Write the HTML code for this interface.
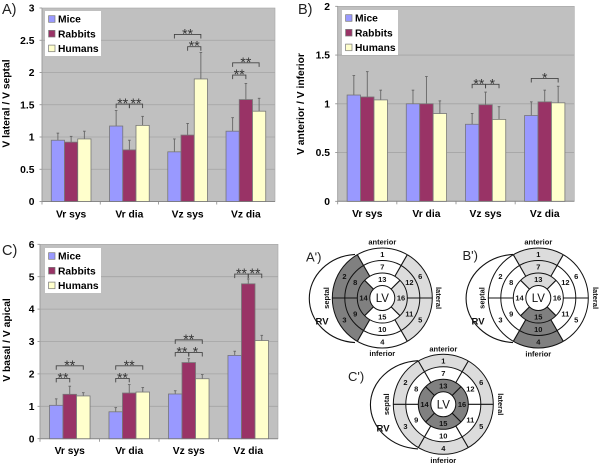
<!DOCTYPE html>
<html>
<head>
<meta charset="utf-8">
<style>
html,body{margin:0;padding:0;background:#fff;width:600px;height:465px;overflow:hidden}
svg{display:block;font-family:"Liberation Sans",sans-serif;filter:blur(0.3px)}
.t{font-weight:bold;font-size:10.3px;fill:#000}
</style>
</head>
<body>
<svg id="fig" width="600" height="465" viewBox="0 0 600 465" xmlns="http://www.w3.org/2000/svg">
<text x="2" y="14" font-size="14.5" fill="#222">A)</text>
<text x="298" y="14" font-size="14.5" fill="#222">B)</text>
<text x="2" y="255" font-size="14.5" fill="#222">C)</text>
<text class="t" transform="translate(9.5,103.5) rotate(-90)" text-anchor="middle">V lateral / V septal</text>
<text class="t" transform="translate(304,104) rotate(-90)" text-anchor="middle">V anterior / V inferior</text>
<text class="t" transform="translate(10,340) rotate(-90)" text-anchor="middle">V basal / V apical</text>
<g id="charts"></g>
<g id="diagrams"></g>
</svg>
<script>
const categories = ["Vr sys", "Vr dia", "Vz sys", "Vz dia"];
const seriesNames = ["Mice", "Rabbits", "Humans"];
const seriesColors = ["#9999ff", "#993366", "#ffffcc"];

const ticksA = ["0", "0.5", "1", "1.5", "2", "2.5", "3"];
const miceA = [0.95, 1.17, 0.77, 1.09];
const rabbitsA = [0.92, 0.80, 1.03, 1.58];
const humansA = [0.97, 1.18, 1.90, 1.40];
const miceErrA = [0.11, 0.24, 0.20, 0.21];
const rabbitsErrA = [0.09, 0.15, 0.18, 0.25];
const humansErrA = [0.12, 0.14, 0.41, 0.20];
const sigA = [[1, 0, 1, 1.51, "**"], [1, 1, 2, 1.51, "**"], [2, 0, 2, 2.59, "**"], [2, 1, 2, 2.40, "**"], [3, 0, 1, 1.96, "**"], [3, 0, 2, 2.15, "**"]];

const ticksB = ["0", "0.5", "1", "1.5", "2"];
const miceB = [1.09, 1.00, 0.79, 0.88];
const rabbitsB = [1.07, 1.00, 0.99, 1.02];
const humansB = [1.04, 0.90, 0.84, 1.01];
const miceErrB = [0.20, 0.14, 0.11, 0.14];
const rabbitsErrB = [0.26, 0.28, 0.13, 0.12];
const humansErrB = [0.10, 0.13, 0.13, 0.17];
const sigB = [[2, 0, 1, 1.20, "**"], [2, 1, 2, 1.20, "*"], [3, 0, 2, 1.26, "*"]];

const ticksC = ["0", "1", "2", "3", "4", "5", "6"];
const miceC = [1.03, 0.83, 1.38, 2.57];
const rabbitsC = [1.37, 1.41, 2.35, 4.78];
const humansC = [1.32, 1.44, 1.85, 3.03];
const miceErrC = [0.20, 0.13, 0.10, 0.13];
const rabbitsErrC = [0.25, 0.26, 0.12, 0.15];
const humansErrC = [0.10, 0.14, 0.13, 0.16];
const sigC = [[0, 0, 1, 1.86, "**"], [0, 0, 2, 2.25, "**"], [1, 0, 1, 1.86, "**"], [1, 0, 2, 2.25, "**"], [2, 0, 1, 2.66, "**"], [2, 1, 2, 2.66, "*"], [2, 0, 2, 3.05, "**"], [3, 0, 1, 5.08, "**"], [3, 1, 2, 5.08, "**"]];

const NS = "http://www.w3.org/2000/svg";
function mk(parent, tag, attrs, txt) {
  const el = document.createElementNS(NS, tag);
  for (const k in attrs) el.setAttribute(k, attrs[k]);
  if (txt !== undefined) el.textContent = txt;
  parent.appendChild(el);
  return el;
}
function named(el, name) {
  
  
  return el;
}

function drawChart(o) {
  const root = named(mk(document.getElementById("charts"), "g", {}), "chart-" + o.id);
  const yMax = Number(o.ticks[o.ticks.length - 1]);
  const sy = v => o.y0 + (o.y1 - o.y0) * v / yMax;
  const gw = (o.x1 - o.x0) / categories.length;
  const bw = gw / 4.4;
  const barX = (g, s) => o.x0 + gw * g + gw / 2 - 1.5 * bw + s * bw;

  named(mk(root, "rect", {x: o.x0, y: o.y1, width: o.x1 - o.x0, height: o.y0 - o.y1, fill: "#c0c0c0", stroke: "#a6a6a6", "stroke-width": 0.6}), "plot-area");

  o.ticks.forEach(t => {
    const y = sy(Number(t));
    if (Number(t) > 0 && Number(t) < yMax) {
      named(mk(root, "line", {x1: o.x0, x2: o.x1, y1: y, y2: y, stroke: "#a4a4a4", "stroke-width": 0.8}), "gridline");
    }
    named(mk(root, "line", {x1: o.x0 - 2.5, x2: o.x0, y1: y, y2: y, stroke: "#888", "stroke-width": 0.8}), "y-tick-mark");
    named(mk(root, "text", {x: o.x0 - o.tickGap, y: y + 3.6, "text-anchor": "end", "class": "t"}, t), "y-tick-label");
  });
  named(mk(root, "line", {x1: o.x0, x2: o.x1, y1: o.y0, y2: o.y0, stroke: "#888", "stroke-width": 1}), "x-axis-line");
  named(mk(root, "line", {x1: o.x0, x2: o.x0, y1: o.y1, y2: o.y0, stroke: "#999", "stroke-width": 0.8}), "y-axis-line");

  categories.forEach((c, g) => {
    const xt = o.x0 + gw * g;
    named(mk(root, "line", {x1: xt, x2: xt, y1: o.y0, y2: o.y0 + 3, stroke: "#888", "stroke-width": 0.8}), "x-tick-mark");
    named(mk(root, "text", {x: xt + gw / 2, y: o.y0 + o.catGap, "text-anchor": "middle", "class": "t"}, c), "x-tick-label");
    o.series.forEach((vals, s) => {
      const x = barX(g, s), v = vals[g], top = sy(v), etop = sy(v + o.errs[s][g]), mid = x + bw / 2;
      named(mk(root, "line", {x1: mid, x2: mid, y1: top, y2: etop, stroke: "#666", "stroke-width": 0.9}), "error-bar");
      named(mk(root, "line", {x1: mid - 1.3, x2: mid + 1.3, y1: etop, y2: etop, stroke: "#666", "stroke-width": 0.9}), "error-cap");
      named(mk(root, "rect", {x: x, y: top, width: bw, height: o.y0 - top, fill: seriesColors[s], stroke: "#777", "stroke-width": 0.8}), "bar-" + seriesNames[s].toLowerCase());
    });
  });

  o.sig.forEach(b => {
    const xa = barX(b[0], b[1]) + bw / 2, xb = barX(b[0], b[2]) + bw / 2, y = sy(b[3]);
    named(mk(root, "path", {d: "M" + xa + " " + (y + 4) + "V" + y + "H" + xb + "V" + (y + 4), fill: "none", stroke: "#444", "stroke-width": 0.9}), "significance-bracket");
    named(mk(root, "text", {x: (xa + xb) / 2, y: y + 4, "text-anchor": "middle", "font-size": 14, fill: "#333"}, b[4]), "significance-stars");
  });

  const lg = named(mk(root, "g", {}), "legend");
  named(mk(lg, "rect", {x: o.lx, y: o.ly, width: 56, height: 45, fill: "#fff"}), "legend-box");
  seriesNames.forEach((n, i) => {
    const yy = o.ly + 4.7 + i * 14.7;
    named(mk(lg, "rect", {x: o.lx + 3.6, y: yy, width: 6.4, height: 6.6, fill: seriesColors[i], stroke: "#777", "stroke-width": 0.7}), "legend-swatch");
    named(mk(lg, "text", {x: o.lx + 13, y: yy + 7, "class": "t"}, n), "legend-entry");
  });
}

drawChart({id: "a", x0: 42, x1: 275, y0: 201.5, y1: 8, tickGap: 7.5, catGap: 16, ticks: ticksA, series: [miceA, rabbitsA, humansA], errs: [miceErrA, rabbitsErrA, humansErrA], sig: sigA, lx: 45, ly: 11});
drawChart({id: "b", x0: 337.7, x1: 574.3, y0: 201.3, y1: 6.3, tickGap: 7.7, catGap: 15.5, ticks: ticksB, series: [miceB, rabbitsB, humansB], errs: [miceErrB, rabbitsErrB, humansErrB], sig: sigB, lx: 342, ly: 10});
drawChart({id: "c", x0: 40, x1: 278, y0: 438.7, y1: 244.3, tickGap: 5.5, catGap: 15.5, ticks: ticksC, series: [miceC, rabbitsC, humansC], errs: [miceErrC, rabbitsErrC, humansErrC], sig: sigC, lx: 45, ly: 248});

const DARK = "#808080", LIGHT = "#dcdcdc", NONE = "#ffffff";
const R = [12.5, 25, 37.5, 50];
const rings = [
  {r0: R[2], r1: R[3], segs: [[1, 60, 120], [6, 0, 60], [5, -60, 0], [4, -120, -60], [3, 180, 240], [2, 120, 180]]},
  {r0: R[1], r1: R[2], segs: [[7, 60, 120], [12, 0, 60], [11, -60, 0], [10, -120, -60], [9, 180, 240], [8, 120, 180]]},
  {r0: R[0], r1: R[1], segs: [[13, 45, 135], [16, -45, 45], [15, 225, 315], [14, 135, 225]]}
];
function pt(c, r, a) {
  const t = a * Math.PI / 180;
  return [c[0] + r * Math.cos(t), c[1] - r * Math.sin(t)];
}
function drawDiagram(d) {
  const g = named(mk(document.getElementById("diagrams"), "g", {}), "bullseye-" + d.id);
  const c = [d.cx, d.cy];
  named(mk(g, "path", {d: "M" + d.arcX + " " + (d.cy - 43.6) + "A" + (d.arcX - d.left) + " 44.2 0 0 0 " + d.arcX + " " + (d.cy + 44.6), fill: "none", stroke: "#111", "stroke-width": 1.1}), "rv-outline");
  rings.forEach(ring => ring.segs.forEach(s => {
    const p1 = pt(c, ring.r1, s[1]), p2 = pt(c, ring.r1, s[2]), p3 = pt(c, ring.r0, s[2]), p4 = pt(c, ring.r0, s[1]);
    const fill = d.dark.includes(s[0]) ? DARK : d.light.includes(s[0]) ? LIGHT : NONE;
    named(mk(g, "path", {d: "M" + p1 + "A" + ring.r1 + " " + ring.r1 + " 0 0 0 " + p2 + "L" + p3 + "A" + ring.r0 + " " + ring.r0 + " 0 0 1 " + p4 + "Z", fill: fill}), "segment-" + s[0]);
  }));
  R.forEach(r => {
    named(mk(g, "circle", {cx: d.cx, cy: d.cy, r: r, fill: "none", stroke: "#111", "stroke-width": 1}), "ring");
  });
  [0, 60, 120, 180, 240, 300].forEach(a => {
    const p = pt(c, R[1], a), q = pt(c, R[3], a);
    named(mk(g, "line", {x1: p[0], y1: p[1], x2: q[0], y2: q[1], stroke: "#111", "stroke-width": 1.1}), "segment-divider");
  });
  [45, 135, 225, 315].forEach(a => {
    const p = pt(c, R[0], a), q = pt(c, R[1], a);
    named(mk(g, "line", {x1: p[0], y1: p[1], x2: q[0], y2: q[1], stroke: "#111", "stroke-width": 1.1}), "segment-divider");
  });
  rings.forEach(ring => ring.segs.forEach(s => {
    const p = pt(c, (ring.r0 + ring.r1) / 2, (s[1] + s[2]) / 2);
    named(mk(g, "text", {x: p[0], y: p[1] + 2.7, "text-anchor": "middle", "font-size": 7.5, "font-weight": "bold", fill: "#111"}, String(s[0])), "segment-number");
  }));
  named(mk(g, "text", {x: d.cx, y: d.cy + 4.2, "text-anchor": "middle", "font-size": 11.5, fill: "#111"}, "LV"), "lv-label");
  named(mk(g, "text", {x: d.cx, y: d.antY, "text-anchor": "middle", "font-size": 7.5, "font-weight": "bold", fill: "#111"}, "anterior"), "anterior-label");
  named(mk(g, "text", {x: d.cx, y: d.infY, "text-anchor": "middle", "font-size": 7.5, "font-weight": "bold", fill: "#111"}, "inferior"), "inferior-label");
  named(mk(g, "text", {transform: "translate(" + d.sepX + "," + d.cy + ") rotate(-90)", "text-anchor": "middle", "font-size": 7.5, "font-weight": "bold", fill: "#111"}, "septal"), "septal-label");
  named(mk(g, "text", {transform: "translate(" + d.latX + "," + d.cy + ") rotate(90)", "text-anchor": "middle", "font-size": 7.5, "font-weight": "bold", fill: "#111"}, "lateral"), "lateral-label");
  named(mk(g, "text", {x: d.rvX, y: d.rvY, "font-size": 9.5, "font-weight": "bold", fill: "#111"}, "RV"), "rv-label");
  named(mk(g, "text", {x: d.tagX, y: d.tagY, "font-size": 13, fill: "#222"}, d.tag), "diagram-tag");
}
drawDiagram({id: "a-prime", tag: "A')", cx: 382.3, cy: 298, arcX: 355, left: 306, dark: [2, 3, 8, 9, 14], light: [6, 5, 12, 11, 16], antY: 244.5, infY: 356, sepX: 329, latX: 436, rvX: 315.5, rvY: 324.5, tagX: 306, tagY: 261.5});
drawDiagram({id: "b-prime", tag: "B')", cx: 538.3, cy: 298, arcX: 513, left: 462.7, dark: [4, 10, 15], light: [1, 7, 13], antY: 244.5, infY: 356.5, sepX: 484.5, latX: 593, rvX: 471.5, rvY: 324.5, tagX: 462.5, tagY: 260});
drawDiagram({id: "c-prime", tag: "C')", cx: 443.3, cy: 404.3, arcX: 418, left: 367, dark: [13, 14, 15, 16], light: [1, 2, 3, 4, 5, 6], antY: 351.5, infY: 463, sepX: 389, latX: 498, rvX: 376.5, rvY: 431.5, tagX: 348, tagY: 381});
</script>
</body>
</html>
